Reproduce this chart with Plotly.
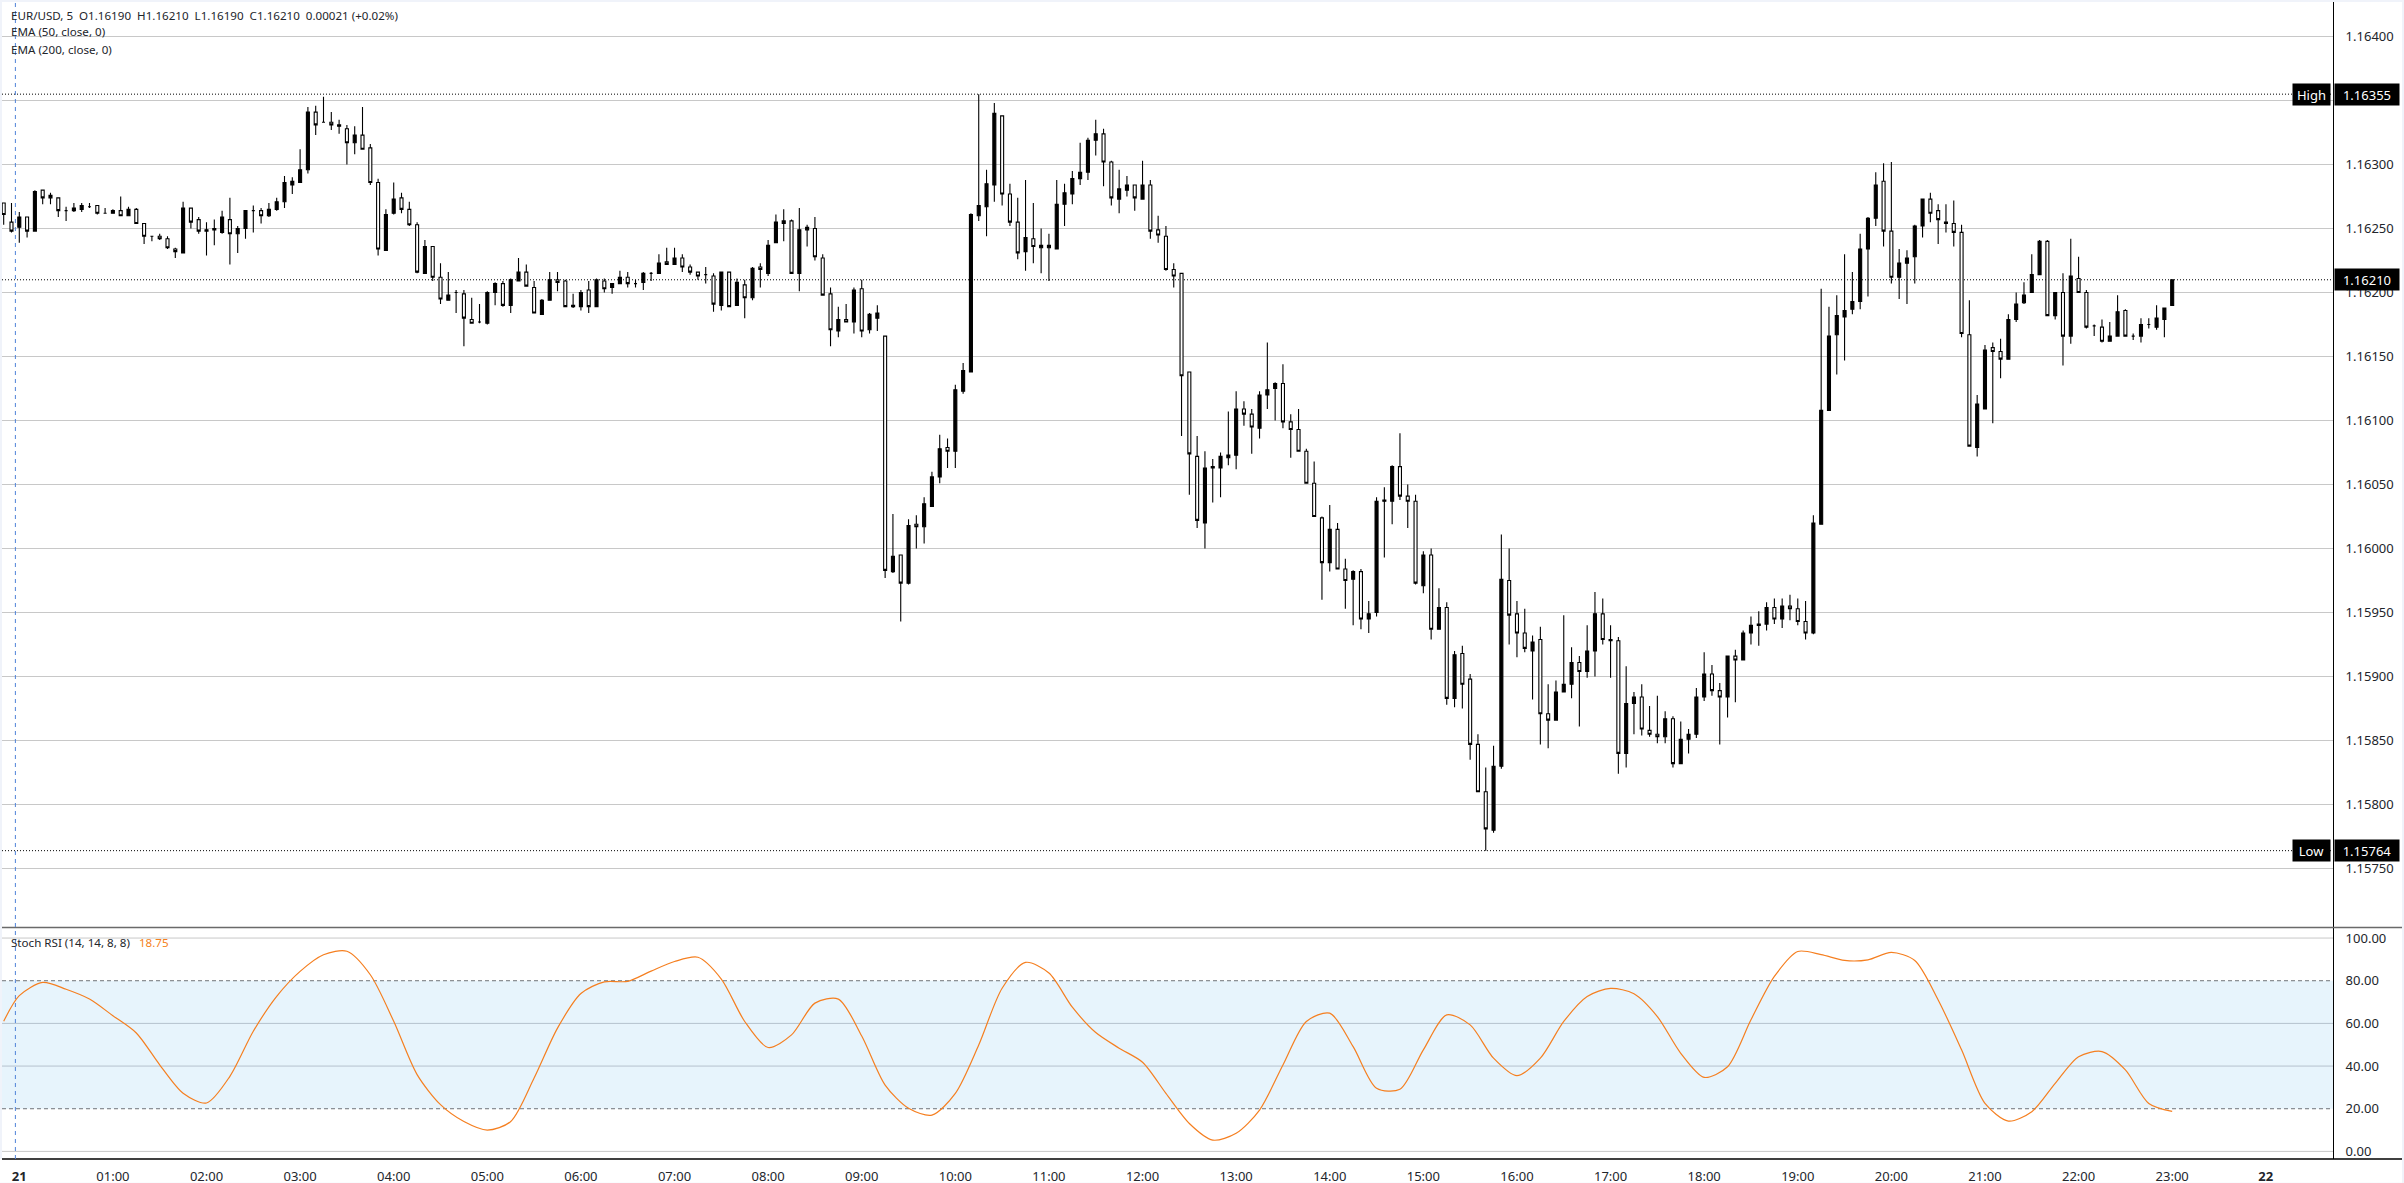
import pandas as pd
import plotly.graph_objects as go
from plotly.subplots import make_subplots

# EUR/USD 5 min candles, values are price x 100000
opens = [
  116270,116255,116251,116259,116248,116280,116274,116274,116264,116264,
  116265,116267,116268,116262,116262,116264,116260,116265,116254,116244,
  116244,116242,116234,116231,116266,116257,116248,116249,116247,116257,
  116246,116250,116264,116264,116260,116265,116271,116284,116286,116296,
  116341,116333,116333,116330,116328,116317,116323,116313,116286,116233,
  116262,116274,116265,116253,116215,116236,116212,116194,116200,116199,
  116179,116177,116176,116200,116207,116190,116209,116216,116204,116183,
  116194,116210,116209,116189,116189,116202,116189,116209,116204,116207,
  116212,116207,116208,116215,116215,116224,116222,116227,116220,116216,
  116214,116213,116190,116216,116190,116206,116196,116220,116215,116239,
  116254,116256,116215,116249,116250,116227,116199,116170,116179,116177,
  116203,116171,116180,116166,115982,115995,115973,116019,116017,116033,
  116056,116079,116076,116123,116138,116260,116267,116284,116338,116277,
  116255,116232,116242,116235,116235,116234,116269,116277,116289,116294,
  116319,116324,116302,116273,116280,116284,116273,116284,116249,116244,
  116218,116215,116138,116072,116020,116063,116063,116071,116073,116109,
  116105,116094,116120,116125,116129,116099,116093,116076,116051,116024,
  115989,116015,115984,115976,115982,115945,115950,116037,116037,116064,
  116041,116037,115971,115995,115937,115954,115883,115918,115898,115847,
  115810,115780,115830,115975,115949,115934,115920,115929,115871,115866,
  115888,115894,115911,115904,115920,115949,115928,115928,115840,115879,
  115884,115858,115855,115853,115867,115832,115851,115855,115884,115902,
  115889,115884,115916,115913,115934,115940,115941,115954,115945,115955,
  115953,115943,115934,116019,116108,116167,116181,116187,116193,116234,
  116258,116287,116248,116212,116223,116228,116252,116273,116264,116254,
  116254,116247,116167,116079,116109,116157,116154,116148,116179,116192,
  116200,116214,116240,116182,116200,116166,116211,116200,116174,116173,
  116162,116166,116186,116166,116166,116175,116173,116179,116190]
highs = [
  116270,116270,116263,116259,116280,116280,116278,116274,116267,116270,
  116270,116270,116268,116266,116265,116275,116267,116266,116254,116244,
  116246,116244,116235,116271,116266,116259,116255,116257,116264,116274,
  116252,116264,116268,116266,116270,116274,116291,116290,116312,116345,
  116346,116353,116341,116335,116331,116330,116345,116316,116289,116265,
  116286,116278,116271,116255,116241,116236,116223,116216,116202,116202,
  116196,116191,116201,116208,116209,116211,116227,116222,116209,116195,
  116216,116216,116210,116199,116202,116209,116211,116211,116207,116217,
  116216,116210,116216,116216,116230,116235,116235,116230,116222,116216,
  116220,116215,116216,116216,116211,116210,116220,116223,116241,116261,
  116265,116257,116266,116253,116259,116230,116204,116189,116191,116204,
  116210,116184,116190,116166,116027,115995,116023,116026,116040,116060,
  116089,116086,116128,116145,116262,116355,116296,116348,116338,116285,
  116274,116288,116270,116250,116246,116288,116285,116295,116317,116321,
  116335,116328,116303,116296,116291,116284,116303,116288,116260,116252,
  116223,116215,116138,116088,116076,116070,116075,116107,116123,116115,
  116109,116123,116161,116130,116144,116105,116109,116078,116068,116025,
  116034,116020,115992,115983,115984,115959,116040,116048,116065,116090,
  116050,116042,115998,116000,115969,115958,115920,115924,115902,115855,
  115829,115846,116011,116000,115959,115953,115932,115939,115894,115897,
  115948,115923,115916,115940,115966,115961,115940,115931,115908,115888,
  115894,115877,115885,115873,115869,115865,115859,115891,115919,115909,
  115895,115916,115921,115936,115947,115951,115958,115961,115961,115964,
  115961,115959,116026,116203,116189,116198,116230,116216,116246,116259,
  116294,116301,116302,116234,116233,116253,116273,116278,116269,116269,
  116272,116253,116194,116120,116159,116161,116164,116183,116200,116208,
  116230,116241,116241,116200,116215,116242,116228,116202,116175,116179,
  116177,116198,116187,116168,116180,116180,116190,116188,116210]
lows = [
  116253,116247,116239,116243,116248,116269,116269,116259,116256,116263,
  116263,116266,116261,116262,116262,116260,116260,116254,116238,116240,
  116241,116234,116227,116231,116250,116246,116229,116237,116246,116222,
  116231,116242,116247,116254,116259,116264,116266,116277,116286,116293,
  116323,116333,116327,116324,116300,116308,116312,116284,116229,116233,
  116261,116262,116252,116215,116215,116209,116191,116194,116184,116158,
  116176,116176,116175,116190,116189,116184,116209,116205,116184,116183,
  116194,116201,116189,116188,116186,116184,116189,116200,116199,116207,
  116204,116204,116202,116209,116215,116222,116222,116216,116214,116210,
  116207,116185,116186,116189,116190,116180,116194,116204,116213,116239,
  116240,116215,116201,116236,116225,116198,116158,116165,116177,116168,
  116165,116168,116170,115977,115981,115943,115972,116000,116004,116033,
  116051,116063,116063,116121,116138,116256,116244,116271,116268,116252,
  116226,116217,116223,116215,116209,116234,116252,116269,116284,116288,
  116307,116283,116268,116262,116275,116264,116273,116242,116239,116217,
  116204,116088,116042,116016,116000,116036,116040,116065,116062,116096,
  116074,116086,116109,116100,116094,116071,116076,116051,116025,115960,
  115982,115984,115953,115940,115937,115934,115947,115993,116019,116038,
  116016,115972,115965,115929,115937,115878,115876,115875,115835,115810,
  115764,115778,115828,115925,115915,115919,115882,115847,115844,115866,
  115888,115883,115861,115899,115900,115925,115899,115824,115829,115855,
  115854,115853,115848,115848,115829,115832,115840,115852,115881,115885,
  115847,115868,115880,115913,115925,115924,115936,115941,115938,115944,
  115940,115929,115933,116019,116108,116136,116147,116183,116187,116197,
  116252,116236,116207,116195,116191,116207,116243,116255,116238,116247,
  116236,116165,116080,116072,116109,116098,116133,116148,116177,116191,
  116200,116214,116182,116179,116143,116160,116200,116172,116166,116161,
  116162,116166,116166,116163,116161,116172,116171,116165,116190]
closes = [
  116261,116248,116259,116248,116279,116274,116276,116264,116264,116266,
  116268,116267,116262,116262,116264,116260,116265,116254,116244,116244,
  116242,116235,116232,116266,116255,116248,116249,116250,116259,116246,
  116250,116264,116264,116260,116265,116271,116286,116287,116296,116341,
  116331,116333,116331,116331,116317,116323,116312,116286,116234,116261,
  116273,116265,116253,116216,116236,116212,116195,116198,116200,116180,
  116176,116177,116200,116207,116190,116210,116216,116205,116184,116194,
  116210,116208,116189,116190,116200,116189,116210,116203,116207,116212,
  116207,116207,116215,116215,116223,116222,116227,116220,116216,116213,
  116214,116191,116216,116189,116208,116196,116219,116218,116237,116255,
  116256,116215,116249,116251,116228,116198,116171,116179,116177,116202,
  116170,116183,116184,115983,115994,115973,116018,116017,116035,116056,
  116078,116076,116124,116139,116261,116268,116285,116340,116277,116255,
  116231,116243,116236,116237,116237,116269,116278,116289,116294,116319,
  116324,116302,116274,116281,116284,116274,116284,116248,116245,116218,
  116213,116135,116074,116022,116063,116064,116072,116073,116109,116105,
  116095,116120,116124,116129,116099,116093,116076,116051,116025,115989,
  116015,115984,115975,115982,115945,115949,116037,116038,116064,116041,
  116037,115973,115995,115937,115954,115883,115917,115894,115847,115810,
  115781,115830,115976,115948,115934,115922,115927,115871,115866,115888,
  115894,115911,115904,115920,115949,115929,115929,115840,115879,115884,
  115859,115855,115853,115867,115832,115851,115855,115884,115902,115889,
  115884,115916,115913,115934,115940,115941,115954,115945,115955,115953,
  115943,115934,116020,116108,116166,116182,116186,116193,116234,116258,
  116284,116248,116212,116223,116227,116252,116273,116262,116257,116255,
  116247,116168,116080,116113,116155,116154,116148,116179,116191,116198,
  116214,116240,116182,116200,116166,116213,116200,116173,116174,116162,
  116166,116185,116166,116166,116175,116175,116180,116188,116210]

stoch_rsi = [
  61, 73, 79.2, 76, 71.4, 63.6, 55.5, 40.6, 27.3, 22.7, 35.2, 56.3, 72.7,
  84.4, 92.2, 93.8, 82.8, 61, 36, 21.9, 14, 10, 14, 34.4, 57.8, 74, 79.5,
  79.7, 84.5, 89, 91, 80.8, 60.9, 48.7, 54.6, 69.5, 71.4, 54.1, 31.1, 20.2,
  17, 27.2, 49.9, 76.5, 88.6, 83.6, 67.6, 55.7, 48.4, 41.8, 27.2, 13.1, 5.3,
  8.5, 19.4, 40.5, 60.9, 64.8, 49.1, 29.6, 29.1, 47.6, 64, 59.3, 43.7, 35.5,
  43.7, 60.9, 72.6, 76.4, 73.9, 63.2, 46, 34.7, 39.7, 61.7, 82, 93.7, 92.2,
  89.5, 89.8, 93.3, 89.5, 71, 47.6, 22.5, 14.2, 18.6, 31.9, 44.4, 46.8, 38.2,
  22.5, 18.75]

price_ticks = [1.164, 1.1635, 1.163, 1.1625, 1.162, 1.1615, 1.161, 1.1605, 1.16,
               1.1595, 1.159, 1.1585, 1.158, 1.1575]
rsi_ticks = [100, 80, 60, 40, 20, 0]
rsi_band = [20, 80]
high_level = 1.16355
low_level = 1.15764
last_level = 1.16210

times = pd.date_range('2025-10-20 23:50', periods=len(opens), freq='5min')
rsi_idx = [0] + list(range(2, len(opens), 3))
rsi_times = times[rsi_idx]

hour_ticks = pd.date_range('2025-10-21 00:00', '2025-10-22 00:00', freq='1h')
hour_labels = ['<b>21</b>'] + [t.strftime('%H:%M') for t in hour_ticks[1:-1]] + ['<b>22</b>']

FONT = 'Noto Sans'
TEXT = '#22252b'
GRID = '#c8c8c8'
TOP_PX = 2
BOTTOM_PX = 1159.3
SPLIT_PX = 927.7
PLOT_H = BOTTOM_PX - TOP_PX
split = (BOTTOM_PX - SPLIT_PX) / PLOT_H
x_range = ['2025-10-20 23:48:55', '2025-10-22 00:43:05']

fig = make_subplots(rows=2, cols=1, shared_xaxes=True, vertical_spacing=0)

fig.add_trace(go.Candlestick(
  x=times,
  open=[v / 1e5 for v in opens],
  high=[v / 1e5 for v in highs],
  low=[v / 1e5 for v in lows],
  close=[v / 1e5 for v in closes],
  increasing=dict(line=dict(color='black', width=1.1), fillcolor='black'),
  decreasing=dict(line=dict(color='black', width=1.1), fillcolor='white'),
  whiskerwidth=0,
  hoverinfo='skip',
  showlegend=False,
), row=1, col=1)

fig.add_trace(go.Scatter(
  x=rsi_times, y=stoch_rsi, mode='lines',
  line=dict(color='#f57f20', width=1.2, shape='spline', smoothing=0.8),
  hoverinfo='skip', showlegend=False,
), row=2, col=1)

shapes = [
  # white behind the scales, the page edge stays pale
  dict(type='rect', xref='paper', yref='paper', x0=1, x1=1.0296, y0=-0.0205, y1=1,
       fillcolor='white', line_width=0, layer='below'),
  dict(type='rect', xref='paper', yref='paper', x0=-0.001, x1=1, y0=-0.0205, y1=0,
       fillcolor='white', line_width=0, layer='below'),
  dict(type='rect', xref='paper', yref='y2', x0=0, x1=1, y0=rsi_band[0], y1=rsi_band[1],
       fillcolor='#e7f4fc', line_width=0, layer='below'),
]
for v in [100, 0]:
  shapes.append(dict(type='line', xref='paper', yref='y2', x0=0, x1=1, y0=v, y1=v,
                     line=dict(color=GRID, width=1), layer='below'))
for v in [60, 40]:
  shapes.append(dict(type='line', xref='paper', yref='y2', x0=0, x1=1, y0=v, y1=v,
                     line=dict(color='#b5c2cd', width=1), layer='below'))
for v in rsi_band:
  shapes.append(dict(type='line', xref='paper', yref='y2', x0=0, x1=1, y0=v, y1=v,
                     line=dict(color='#6f7278', width=1, dash='4px,3px'), layer='below'))
for v in [high_level, low_level, last_level]:
  shapes.append(dict(type='line', xref='paper', yref='y', x0=0, x1=1, y0=v, y1=v,
                     line=dict(color='black', width=1, dash='1px,2px'), layer='below'))
# pane separator, time axis line, session break
shapes.append(dict(type='line', xref='paper', yref='paper', x0=0, x1=1.0296, y0=split, y1=split,
                   line=dict(color='#6a6a6a', width=1.5)))
shapes.append(dict(type='line', xref='paper', yref='paper', x0=0, x1=1.0296, y0=0, y1=0,
                   line=dict(color='black', width=1.5)))
shapes.append(dict(type='line', xref='x', yref='paper', x0='2025-10-20 23:57:30', x1='2025-10-20 23:57:30',
                   y0=0, y1=1, line=dict(color='#4f82d8', width=1, dash='4px,4px')))

def legend_text(text, y_px, x_px=9):
  return dict(text=text, xref='paper', yref='paper', x=(x_px - 2) / 2331, y=1 - (y_px - TOP_PX) / PLOT_H,
              xanchor='left', yanchor='middle', showarrow=False, align='left',
              font=dict(family=FONT, size=11.6, color=TEXT))

def tag(text, level, right=True, width=64):
  return dict(text=text, xref='paper', yref='y', x=1, y=level,
              xanchor='left' if right else 'right', yanchor='middle',
              xshift=1 if right else -2, showarrow=False, width=width, height=21,
              bgcolor='black', borderpad=0,
              font=dict(family=FONT, size=13, color='white'))

annotations = [
  legend_text('EUR/USD, 5&nbsp;&nbsp;O1.16190&nbsp;&nbsp;H1.16210&nbsp;&nbsp;L1.16190&nbsp;&nbsp;C1.16210&nbsp;&nbsp;0.00021 (+0.02%)', 16),
  legend_text('EMA (50, close, 0)', 32),
  legend_text('EMA (200, close, 0)', 50),
  legend_text('Stoch RSI (14, 14, 8, 8)&nbsp;&nbsp;&nbsp;<span style="color:#f57f20">18.75</span>', 943),
  tag('High', high_level, right=False, width=37),
  tag(f'{high_level:.5f}', high_level),
  tag(f'{last_level:.5f}', last_level),
  tag('Low', low_level, right=False, width=37),
  tag(f'{low_level:.5f}', low_level),
]

# the 1.16350 label sits fully behind the High tag, only its grid line shows
price_labels = ['' if v == 1.1635 else f'{v:.5f}' for v in price_ticks]

fig.update_layout(
  width=2404, height=1183,
  margin=dict(l=2, r=71, t=TOP_PX, b=1183 - BOTTOM_PX),
  paper_bgcolor='#f0f3fa', plot_bgcolor='white',
  boxgap=0.45,
  font=dict(family=FONT, size=13, color=TEXT),
  shapes=shapes, annotations=annotations,
  showlegend=False,
  xaxis=dict(range=x_range, rangeslider_visible=False, automargin=False,
             showgrid=False, showticklabels=False, ticks=''),
  xaxis2=dict(range=x_range, tickvals=hour_ticks, ticktext=hour_labels, showgrid=False, automargin=False,
              ticks='outside', ticklen=5, tickcolor='rgba(0,0,0,0)', rangeslider_visible=False),
  yaxis=dict(domain=[split, 1], side='right', range=[1.15704, 1.16427], automargin=False,
             tickvals=price_ticks, ticktext=price_labels,
             gridcolor=GRID, gridwidth=1, zeroline=False,
             showline=True, linecolor='black', linewidth=1,
             ticks='outside', ticklen=9, tickcolor='rgba(0,0,0,0)'),
  yaxis2=dict(domain=[0, split], side='right', range=[-3.56, 104.97], automargin=False,
              tickvals=rsi_ticks, ticktext=[f'{v:.2f}' for v in rsi_ticks],
              showgrid=False, zeroline=False,
              showline=True, linecolor='black', linewidth=1,
              ticks='outside', ticklen=9, tickcolor='rgba(0,0,0,0)'),
)

fig.write_html('out.html', config={'displayModeBar': False},
               post_script="document.body.style.margin='0';")
